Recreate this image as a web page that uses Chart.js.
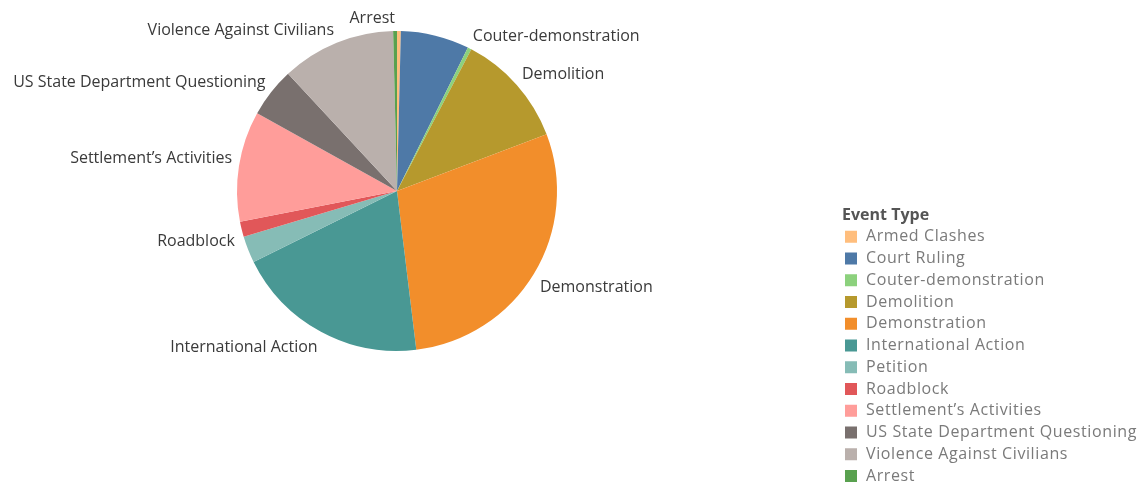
<!DOCTYPE html>
<html>
<head>
<meta charset="utf-8">
<script src="https://cdn.jsdelivr.net/npm/chart.js@4/dist/chart.umd.min.js"></script>
<style>
  html, body { margin: 0; padding: 0; background: #fff; }
  #wrap { width: 1141px; height: 487px; position: relative; }
</style>
</head>
<body>
<div id="wrap"><canvas id="EventPie"></canvas></div>
<script>
// event counts per type, in legend order
var categories = ['Armed Clashes', 'Court Ruling', 'Couter-demonstration', 'Demolition',
  'Demonstration', 'International Action', 'Petition', 'Roadblock',
  'Settlement\u2019s Activities', 'US State Department Questioning',
  'Violence Against Civilians', 'Arrest'];
var counts = [1, 18, 1, 30, 75, 51, 7, 4, 29, 13, 30, 1];
var colors = ['#FFBE7D', '#4E79A7', '#8CD17D', '#B6992D', '#F28E2B', '#499894',
  '#86BCB6', '#E15759', '#FF9D9A', '#79706E', '#BAB0AC', '#59A14F'];
// slices that get a label next to the pie
var labelled = ['Arrest', 'Couter-demonstration', 'Demolition', 'Demonstration',
  'International Action', 'Roadblock', 'Settlement\u2019s Activities',
  'US State Department Questioning', 'Violence Against Civilians'];
var legendTitle = 'Event Type';

var FONT = '"Open Sans", "Noto Sans", sans-serif';

// label sits outside the slice, with its nearest corner on the slice's mid ray
var sliceLabels = {
  id: 'sliceLabels',
  afterDatasetsDraw: function(chart) {
    var ctx = chart.ctx;
    var meta = chart.getDatasetMeta(0);
    ctx.save();
    ctx.font = '16px ' + FONT;
    ctx.fillStyle = '#3a3a3a';
    ctx.textBaseline = 'middle';
    meta.data.forEach(function(arc, i) {
      var name = chart.data.labels[i];
      if (labelled.indexOf(name) < 0) return;
      var p = arc.getProps(['x', 'y', 'startAngle', 'endAngle', 'outerRadius'], true);
      var a = (p.startAngle + p.endAngle) / 2;
      var r = p.outerRadius + 7;
      var x = p.x + Math.cos(a) * r;
      var y = p.y + Math.sin(a) * r;
      ctx.textAlign = Math.cos(a) >= 0 ? 'left' : 'right';
      y += Math.sin(a) < 0 ? -6 : 10;
      ctx.fillText(name, x, y);
    });
    ctx.restore();
  }
};

var sideLegend = {
  id: 'sideLegend',
  afterDraw: function(chart) {
    var ctx = chart.ctx;
    var x0 = 842, y0 = 215, step = 21.75;
    ctx.save();
    ctx.textBaseline = 'middle';
    ctx.textAlign = 'left';
    ctx.font = 'bold 16px ' + FONT;
    ctx.fillStyle = '#555';
    ctx.fillText(legendTitle, x0, y0);
    ctx.font = '16px ' + FONT;
    ctx.letterSpacing = '0.6px';
    chart.data.labels.forEach(function(name, i) {
      var y = y0 + step * (i + 1);
      ctx.fillStyle = chart.data.datasets[0].backgroundColor[i];
      ctx.fillRect(x0 + 3, y - 6, 12, 12);
      ctx.fillStyle = '#7a7a7a';
      ctx.fillText(name, x0 + 24, y);
    });
    ctx.restore();
  }
};

var chart = new Chart(document.getElementById('EventPie'), {
  type: 'pie',
  data: {
    labels: categories,
    datasets: [{
      data: counts,
      backgroundColor: colors,
      borderWidth: 0
    }]
  },
  options: {
    responsive: true,
    maintainAspectRatio: false,
    animation: false,
    layout: {
      padding: { left: 237, top: 31, right: 584, bottom: 136 }
    },
    plugins: {
      legend: { display: false },
      tooltip: { enabled: false }
    }
  },
  plugins: [sliceLabels, sideLegend]
});
</script>
</body>
</html>
